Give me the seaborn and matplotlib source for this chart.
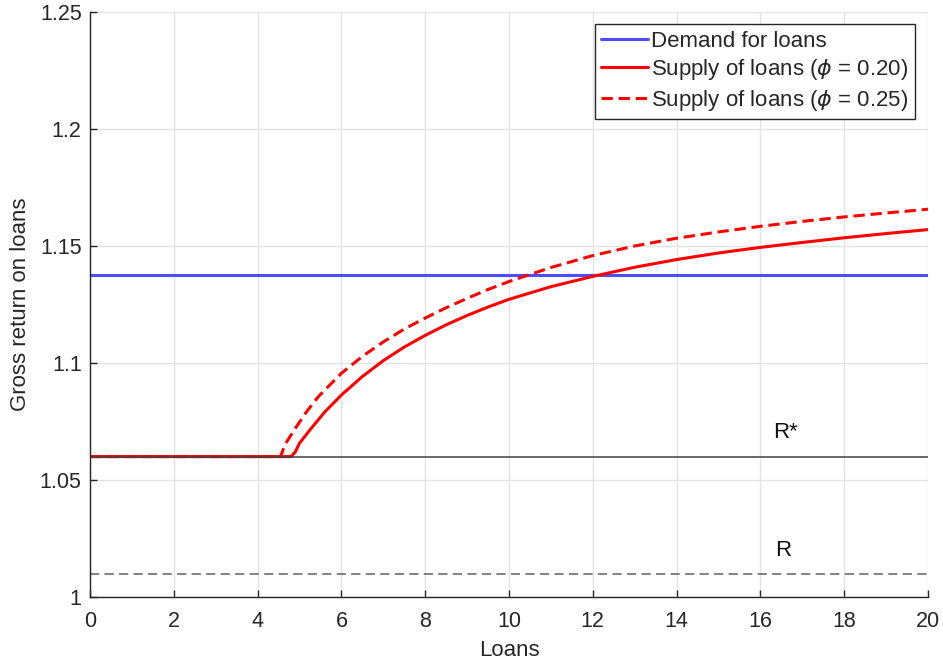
import numpy as np
import pandas as pd
import seaborn as sns
import matplotlib.pyplot as plt
from matplotlib.ticker import FormatStrFormatter

loans_020 = [0, 4.8, 4.9, 5.0, 5.25, 5.6, 6, 6.5, 7, 7.5, 8, 8.5, 9, 9.5, 10, 11, 12, 13, 14, 15, 16, 17, 18, 19, 20]
supply_020 = [1.06, 1.06, 1.062, 1.0657, 1.0714, 1.0790, 1.0863, 1.0942, 1.1010, 1.1068, 1.1118, 1.1163, 1.1203,
              1.1239, 1.1272, 1.1326, 1.1370, 1.1409, 1.1442, 1.1470, 1.1494, 1.1515, 1.1535, 1.1553, 1.1570]
loans_025 = [0, 4.55, 4.65, 4.85, 5.17, 5.45, 6, 6.5, 7, 7.5, 8, 8.5, 9, 9.5, 10, 11, 12, 13, 14, 15, 16, 17, 18, 19, 20]
supply_025 = [1.06, 1.06, 1.065, 1.0707, 1.0792, 1.0856, 1.0956, 1.1028, 1.1090, 1.1145, 1.1192, 1.1236, 1.1276,
              1.1314, 1.1348, 1.1408, 1.1459, 1.1500, 1.1533, 1.1560, 1.1584, 1.1605, 1.1624, 1.1641, 1.1657]
demand = 1.1375
r_star = 1.06
r_gross = 1.01
x_range = [0, 20]

sns.set_theme(style="whitegrid")
plt.rcParams['font.family'] = ['Liberation Sans', 'DejaVu Sans']
plt.rcParams['mathtext.fontset'] = 'dejavusans'

fig = plt.figure(figsize=(9.43, 6.64), dpi=100)
ax = fig.add_axes([0.0954, 0.1009, 0.8887, 0.8811])

df20 = pd.DataFrame({'Loans': loans_020, 'R': supply_020})
df25 = pd.DataFrame({'Loans': loans_025, 'R': supply_025})
dfd = pd.DataFrame({'Loans': x_range, 'R': [demand, demand]})

sns.lineplot(data=dfd, x='Loans', y='R', color='#4D4DFF', lw=2.2, ax=ax, label='Demand for loans')
sns.lineplot(data=df20, x='Loans', y='R', color='#FF0000', lw=2.2, ax=ax,
             label=r'Supply of loans ($\phi$ = 0.20)')
sns.lineplot(data=df25, x='Loans', y='R', color='#FF0000', lw=2.2, ax=ax,
             label=r'Supply of loans ($\phi$ = 0.25)', linestyle=(0, (3.7, 1.9)))
ax.plot(x_range, [r_star, r_star], color='#404040', lw=1.1)
ax.plot(x_range, [r_gross, r_gross], color='#606060', lw=1.1, linestyle=(0, (6, 3.5)))

ax.text(16.6, 1.0705, 'R*', fontsize=16, ha='center', va='center', color='#111111')
ax.text(16.55, 1.0197, 'R', fontsize=16, ha='center', va='center', color='#111111')

ax.set_xlim(0, 20)
ax.set_ylim(1.0, 1.25)
ax.set_xticks(np.arange(0, 21, 2))
ax.set_yticks([1.0, 1.05, 1.1, 1.15, 1.2, 1.25])
ax.yaxis.set_major_formatter(FormatStrFormatter('%g'))
ax.set_xlabel('Loans', fontsize=16, color='#262626', labelpad=6)
ax.set_ylabel('Gross return on loans', fontsize=16, color='#262626', labelpad=6)

ax.grid(True, color='#E3E3E3', lw=1.0)
ax.set_facecolor('white')
for side in ['top', 'right']:
    ax.spines[side].set_visible(False)
for side in ['left', 'bottom']:
    ax.spines[side].set_visible(True)
    ax.spines[side].set_color('#262626')
    ax.spines[side].set_linewidth(1.0)
ax.tick_params(axis='both', direction='in', length=5, width=1.0, colors='#262626',
               labelsize=15.5, left=True, bottom=True, pad=6)
ax.tick_params(axis='x', pad=10)

leg = ax.legend(loc='upper right', bbox_to_anchor=(0.9845, 0.9795), fontsize=16, frameon=True,
                fancybox=False, framealpha=1, edgecolor='#262626', handlelength=2.1,
                handletextpad=0.15, borderpad=0.3, labelspacing=0.25, borderaxespad=0)
leg.get_frame().set_linewidth(1.0)

fig.savefig('out.png', dpi=100)
